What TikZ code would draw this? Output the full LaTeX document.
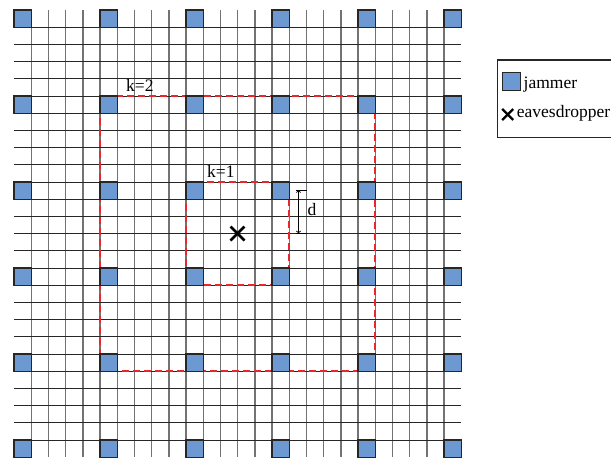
\documentclass[tikz,border=0pt]{standalone}
\usepackage{fontspec}
\setmainfont{Liberation Serif}
\definecolor{jamblue}{RGB}{108,153,210}
\definecolor{dashred}{RGB}{232,38,44}
\tikzset{
  jammer/.style={draw=black!85, fill=jamblue, line width=1.1pt, minimum size=17.2pt, inner sep=0pt, outer sep=0pt},
  vline/.style={draw=black!55, line width=1.4pt},
  hline/.style={draw=black!85, line width=1pt},
  ring/.style={draw=dashred, line width=2pt, dash pattern=on 7pt off 4pt},
  lbl/.style={font=\fontsize{17.5}{20}\selectfont, inner sep=0pt, anchor=base west},
  cross/.style={line width=2.6pt, black}
}
\begin{document}
\begin{tikzpicture}[x=1pt,y=-1pt]
\useasboundingbox (0,0) rectangle (611,459);
\clip (0,0) rectangle (611,459);
\fill[white] (0,0) rectangle (611,459);
% grid
\foreach \i in {1,...,25} {
  \draw[vline] (14+17.2*\i,10) -- (14+17.2*\i,457.2);
}
\foreach \i in {1,...,25} {
  \draw[hline] (14,10+17.2*\i) -- (461.2,10+17.2*\i);
}
% jammer positions
\foreach \c in {0,5,10,15,20,25} {
  \foreach \r in {0,5,10,15,20,25} {
    \coordinate (p-\c-\r) at (14+17.2*\c+8.6,10+17.2*\r+8.6);
  }
}
% rings
\draw[ring] ([shift={(-8.6,-8.6)}]p-10-10) rectangle ([shift={(8.6,8.6)}]p-15-15);
\draw[ring] ([shift={(-8.6,-8.6)}]p-5-5) rectangle ([shift={(8.6,8.6)}]p-20-20);
% jammers
\foreach \c in {0,5,10,15,20,25} {
  \foreach \r in {0,5,10,15,20,25} {
    \node[jammer] (j-\c-\r) at (p-\c-\r) {};
  }
}
% labels
\node[lbl] (k2) at (126,91) {k=2};
\node[lbl] (k1) at (207,177) {k=1};
% eavesdropper
\coordinate (eve) at (237.5,233.5);
\draw[cross] ([shift={(-7,-7)}]eve) -- ([shift={(7,7)}]eve);
\draw[cross] ([shift={(-7,7)}]eve) -- ([shift={(7,-7)}]eve);
% distance d
\coordinate (dtop) at (298.5,190);
\coordinate (dbot) at (298.5,233.5);
\draw[black, line width=0.9pt, <->] (dtop) -- (dbot);
\draw[black, line width=0.8pt] ([xshift=-3]dtop) -- ([xshift=8.5]dtop);
\draw[black, line width=0.8pt] ([xshift=-3]dbot) -- ([xshift=8.5]dbot);
\node[lbl] (dlbl) at (307.5,215) {d};
% legend
\draw[black!85, line width=1.1pt] (497.3,60) rectangle (650,137.7);
\node[jammer, minimum size=18.4pt] (legjam) at (511.3,81.5) {};
\node[lbl] (legjamtxt) at (523.5,88.3) {jammer};
\coordinate (legx) at (507.7,114.5);
\draw[cross, line width=2.4pt] ([shift={(-5.5,-5.5)}]legx) -- ([shift={(5.5,5.5)}]legx);
\draw[cross, line width=2.4pt] ([shift={(-5.5,5.5)}]legx) -- ([shift={(5.5,-5.5)}]legx);
\node[lbl] (legxtxt) at (516.7,117.7) {eavesdropper};
\end{tikzpicture}
\end{document}
